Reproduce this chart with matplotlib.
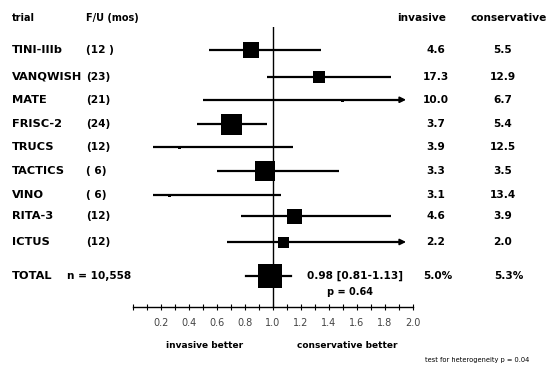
import matplotlib
matplotlib.use("Agg")
import matplotlib.pyplot as plt
import numpy as np

INK = "#000000"

trials = ["TINI-IIIb", "VANQWISH", "MATE", "FRISC-2", "TRUCS", "TACTICS", "VINO", "RITA-3", "ICTUS"]
followup = ["(12 )", "(23)", "(21)", "(24)", "(12)", "( 6)", "( 6)", "(12)", "(12)"]
odds = [0.84, 1.33, 1.49, 0.70, 0.33, 0.94, 0.26, 1.15, 1.07]
ci_lo = [0.54, 0.96, 0.50, 0.46, 0.14, 0.60, 0.14, 0.77, 0.67]
ci_hi = [1.34, 1.84, 2.40, 0.96, 1.14, 1.47, 1.06, 1.84, 2.30]
weight = [16, 12, 3, 21, 3, 20, 3, 15, 11]   # box side, px
invasive = ["4.6", "17.3", "10.0", "3.7", "3.9", "3.3", "3.1", "4.6", "2.2"]
conservative = ["5.5", "12.9", "6.7", "5.4", "12.5", "3.5", "13.4", "3.9", "2.0"]

total_or, total_lo, total_hi, total_w = 0.98, 0.81, 1.13, 24
total_inv, total_con = "5.0%", "5.3%"
total_n = "n = 10,558"
p_total = "p = 0.64"
p_het = "test for heterogeneity p = 0.04"

ticks = [0.2, 0.4, 0.6, 0.8, 1.0, 1.2, 1.4, 1.6, 1.8, 2.0]

W, H = 550, 365
fig = plt.figure(figsize=(5.5, 3.65), dpi=100, facecolor="white")
# plot area: x 0..2 spans px 133..413, axis line at y=307, top at y=27
ax = fig.add_axes([133 / W, 1 - 307 / H, 280 / W, 280 / H])
ax.set_xlim(0, 2.0)
ROW = 23.7
ax.set_ylim((307 - 50) / ROW, (27 - 50) / ROW)

def px(x):
    return (x - 133) / 140

def py(y):
    return (y - 50) / ROW

rows = [0, 1.13, 2.1, 3.12, 4.08, 5.1, 6.1, 7.0, 8.1]
y_total = py(276)
XMAX = 1.93

bold = dict(fontweight="bold", fontsize=7.6, color=INK, va="center", clip_on=False)
label = {**bold, "fontsize": 8.2}

for i, name in enumerate(trials):
    y = rows[i]
    hi = min(ci_hi[i], XMAX)
    ax.plot([ci_lo[i], hi], [y, y], color=INK, lw=1.6, solid_capstyle="butt", zorder=2)
    if ci_hi[i] > 2.0:
        ax.annotate("", xy=(XMAX + 0.04, y), xytext=(XMAX - 0.04, y),
                    arrowprops=dict(arrowstyle="-|>", color=INK, lw=1.2,
                                    mutation_scale=9), annotation_clip=False)
    ax.plot(odds[i], y, marker="s", ms=weight[i] * 0.72, color=INK, mew=0, zorder=3)
    ax.text(px(12), y, name, ha="left", **label)
    ax.text(px(86), y, followup[i], ha="left", **bold)
    ax.text(px(436), y, invasive[i], ha="center", **bold)
    ax.text(px(503), y, conservative[i], ha="center", **bold)

# total
ax.plot([total_lo, total_hi], [y_total, y_total], color=INK, lw=1.6, zorder=2)
ax.plot(total_or, y_total, marker="s", ms=total_w * 0.72, color=INK, mew=0, zorder=3)
ax.text(px(12), y_total, "TOTAL", ha="left", **label)
ax.text(px(67), y_total, total_n, ha="left", **bold)
ax.text(px(307), y_total, f"{total_or:.2f} [{total_lo:.2f}-{total_hi:.2f}]", ha="left", **bold)
ax.text(px(350), py(292), p_total, ha="center", **{**bold, "fontsize": 7})
ax.text(px(438), y_total, total_inv, ha="center", **bold)
ax.text(px(509), y_total, total_con, ha="center", **bold)

# headers
ax.text(px(12), py(18), "trial", ha="left", **{**bold, "fontsize": 7})
ax.text(px(86), py(18), "F/U (mos)", ha="left", **{**bold, "fontsize": 7})
ax.text(px(422), py(18), "invasive", ha="center", **bold)
ax.text(px(509), py(18), "conservative", ha="center", **bold)

# reference line and axis
ax.axvline(1.0, color=INK, lw=1.0, zorder=1)
for s in ["top", "right", "left"]:
    ax.spines[s].set_visible(False)
ax.spines["bottom"].set_linewidth(1.0)
ax.spines["bottom"].set_color(INK)
ax.set_yticks([])
ax.set_xticks(ticks, [f"{t:.1f}" for t in ticks])
ax.set_xticks(np.arange(0, 2.01, 0.1), minor=True)
ax.tick_params(axis="x", which="both", direction="inout", length=4, width=0.8,
               colors=INK, labelsize=7, pad=6, labelcolor="#444444")

ax.text(px(205), py(345), "invasive better", ha="center", **{**bold, "fontsize": 6.5})
ax.text(px(347), py(345), "conservative better", ha="center", **{**bold, "fontsize": 6.5})
ax.text(px(425), py(360), p_het, ha="left", fontsize=4.8, color=INK, va="center", clip_on=False)

fig.savefig("out.png", dpi=100, facecolor="white")
